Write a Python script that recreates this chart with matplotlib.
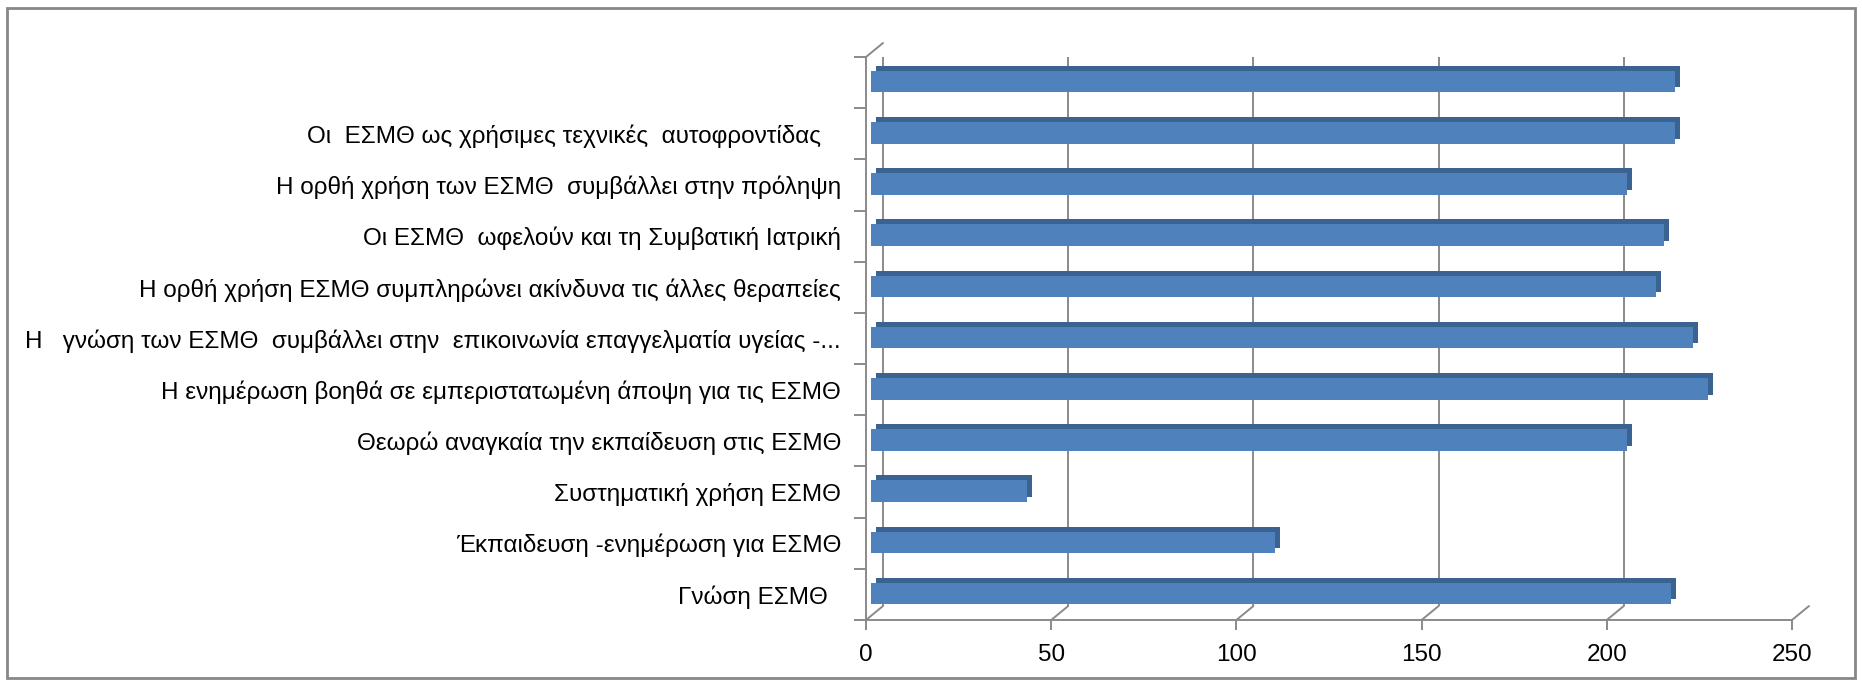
import matplotlib
matplotlib.use("Agg")
import matplotlib.pyplot as plt
import matplotlib.transforms as mtransforms
from matplotlib.patches import Rectangle
import numpy as np

# categories bottom -> top (as in the Excel chart)
labels = [
    "Γνώση ΕΣΜΘ  ",
    "Έκπαιδευση -ενημέρωση για ΕΣΜΘ",
    "Συστηματική χρήση ΕΣΜΘ",
    "Θεωρώ αναγκαία την εκπαίδευση στις ΕΣΜΘ",
    "Η ενημέρωση βοηθά σε εμπεριστατωμένη άποψη για τις ΕΣΜΘ",
    "Η   γνώση των ΕΣΜΘ  συμβάλλει στην  επικοινωνία επαγγελματία υγείας -...",
    "Η ορθή χρήση ΕΣΜΘ συμπληρώνει ακίνδυνα τις άλλες θεραπείες",
    "Οι ΕΣΜΘ  ωφελούν και τη Συμβατική Ιατρική",
    "Η ορθή χρήση των ΕΣΜΘ  συμβάλλει στην πρόληψη",
    "Οι  ΕΣΜΘ ως χρήσιμες τεχνικές  αυτοφροντίδας   ",
    "",
]
values = [216, 109, 42, 204, 226, 222, 212, 214, 204, 217, 217]
xticks = [0, 50, 100, 150, 200, 250]

plt.rcParams['font.family'] = ['Liberation Sans', 'DejaVu Sans']

W, H = 1862, 685
fig = plt.figure(figsize=(W / 100, H / 100), dpi=100)
ax = fig.add_axes([866 / W, 1 - 620 / H, (1792 - 866) / W, (620 - 57) / H])

n = len(values)
ypos = np.arange(n)
ax.set_xlim(0, 250)
ax.set_ylim(-0.5, n - 0.5)

grid_c = '#8a8a8a'
dx, dy = 17, 14  # depth of the fake 3d walls, in pixels

back = mtransforms.offset_copy(ax.transData, fig=fig, x=dx, y=dy, units='dots')
# back wall gridlines
ax.vlines(xticks, -0.5, n - 0.5, transform=back, color=grid_c, lw=1.4, zorder=1)
# connectors from front ticks to back wall
for v in xticks:
    ax.annotate('', xy=(v, -0.5), xytext=(dx, dy), textcoords='offset pixels',
                arrowprops=dict(arrowstyle='-', color=grid_c, lw=1.4, shrinkA=0, shrinkB=0),
                annotation_clip=False, zorder=1)
ax.annotate('', xy=(0, n - 0.5), xytext=(dx, dy), textcoords='offset pixels',
            arrowprops=dict(arrowstyle='-', color=grid_c, lw=1.4, shrinkA=0, shrinkB=0),
            annotation_clip=False, zorder=1)

# bars: darker depth face behind, front face on top
bh = 0.42
shift = -0.06
front = mtransforms.offset_copy(ax.transData, fig=fig, x=5, y=4, units='dots')
depth = mtransforms.offset_copy(ax.transData, fig=fig, x=10, y=9, units='dots')
ax.barh(ypos + shift, values, height=bh, color='#3b6392', transform=depth, zorder=3)
ax.barh(ypos + shift, values, height=bh, color='#4f81bd', transform=front, zorder=4)

# axes styling
for s in ['top', 'right']:
    ax.spines[s].set_visible(False)
for s in ['left', 'bottom']:
    ax.spines[s].set_color(grid_c)
    ax.spines[s].set_linewidth(1.4)

ax.set_xticks(xticks)
ax.set_xticklabels([str(v) for v in xticks], fontsize=17.5)
ax.tick_params(axis='x', length=7, width=1.4, color=grid_c, pad=10)

ax.set_yticks(ypos)
ax.set_yticklabels(labels, fontsize=17.5)
ax.set_yticks(np.arange(n + 1) - 0.5, minor=True)
ax.tick_params(axis='y', which='major', length=0, pad=18)
ax.tick_params(axis='y', which='minor', length=9, width=1.4, color=grid_c)

# chart area border
fig.patches.append(Rectangle((7 / W, 7 / H), (W - 14) / W, (H - 15) / H,
                             transform=fig.transFigure, fill=False,
                             edgecolor='#878787', lw=2))

fig.savefig('out.png', dpi=100)
